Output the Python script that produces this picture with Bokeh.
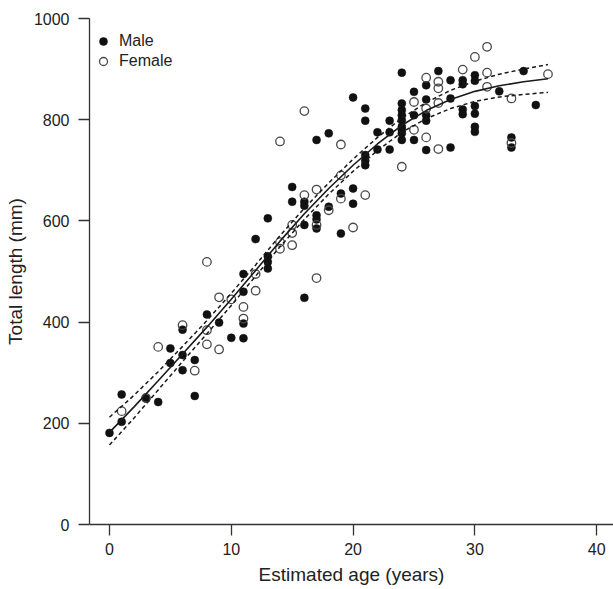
from bokeh.plotting import figure
from bokeh.models import Range1d, FixedTicker, Legend, LegendItem, ColumnDataSource
from bokeh.embed import file_html
from bokeh.resources import INLINE

# ---- data ----
male_age = [0, 1, 1, 3, 4, 5, 5, 6, 6, 6, 7, 7, 8, 9, 10,
            11, 11, 11, 11, 12, 13, 13, 13, 13, 15, 15,
            16, 16, 16, 16, 17, 17, 17, 17, 18, 18, 19, 19,
            20, 20, 20, 21, 21, 21, 21, 21, 22, 22, 23, 23, 23,
            24, 24, 24, 24, 24, 24, 24, 24, 24,
            25, 25, 25, 26, 26, 26, 26, 26, 27, 28, 28, 28,
            29, 29, 29, 29, 30, 30, 30, 30, 30, 30, 32, 33, 33, 34, 35]
male_len = [181, 257, 203, 249, 242, 348, 319, 335, 305, 385, 325, 254, 415, 399, 369,
            495, 460, 397, 368, 564, 605, 530, 519, 506, 667, 638,
            638, 630, 592, 448, 760, 611, 603, 585, 773, 628, 654, 575,
            844, 664, 634, 822, 798, 730, 719, 710, 775, 741, 798, 775, 741,
            893, 832, 819, 809, 799, 786, 780, 773, 760,
            855, 809, 760, 868, 840, 809, 798, 740, 896, 878, 842, 745,
            878, 870, 820, 811, 888, 877, 827, 812, 786, 776, 856, 765, 745, 896, 829]

female_age = [1, 3, 4, 6, 7, 8, 8, 8, 9, 9, 10, 11, 11, 12, 12,
              14, 14, 14, 15, 15, 15, 16, 16, 17, 17, 17, 18,
              19, 19, 19, 20, 21, 24, 25, 25, 26, 26, 26,
              27, 27, 27, 27, 29, 30, 31, 31, 31, 33, 33, 36]
female_len = [224, 250, 351, 394, 304, 519, 384, 356, 449, 346, 445, 430, 407, 495, 462,
              757, 558, 545, 592, 576, 552, 817, 651, 662, 592, 487, 621,
              751, 690, 644, 587, 651, 707, 835, 780, 883, 822, 765,
              875, 862, 833, 742, 899, 924, 944, 893, 865, 842, 754, 890]

curve_age = [0, 2, 4, 6, 8, 10, 12, 14, 16, 18, 20, 22, 24, 26, 28, 30, 32, 34, 36]
curve_fit = [182, 232, 284, 337, 390, 445, 502, 560, 614, 664, 710, 752, 789, 818, 840, 856, 867, 875, 881]
curve_upper = [212, 255, 302, 352, 403, 457, 513, 571, 625, 675, 722, 765, 803, 834, 858, 876, 890, 900, 909]
curve_lower = [157, 210, 266, 322, 377, 433, 491, 549, 603, 653, 698, 739, 775, 802, 822, 836, 845, 850, 854]

x_ticks = [0, 10, 20, 30, 40]
y_ticks = [0, 200, 400, 600, 800, 1000]

FONT = "Liberation Sans"
INK = "#222222"

p = figure(width=613, height=589, output_backend="svg", toolbar_location=None,
           x_range=Range1d(-1.64, 41.38), y_range=Range1d(0, 1000),
           min_border_left=89, min_border_right=0, min_border_top=18, min_border_bottom=65)
p.outline_line_color = None
p.xgrid.visible = False
p.ygrid.visible = False
p.background_fill_color = "white"
p.border_fill_color = "white"

for ax in (p.xaxis[0], p.yaxis[0]):
    ax.axis_line_color = "#333333"
    ax.axis_line_width = 1.3
    ax.major_tick_line_color = "#333333"
    ax.major_tick_line_width = 1.3
    ax.major_tick_out = 11
    ax.major_tick_in = 0
    ax.minor_tick_line_color = None
    ax.major_label_text_font = FONT
    ax.major_label_text_font_size = "16px"
    ax.major_label_text_color = INK
    ax.axis_label_text_font = FONT
    ax.axis_label_text_font_size = "19px"
    ax.axis_label_text_font_style = "normal"
    ax.axis_label_text_color = INK

p.xaxis.ticker = FixedTicker(ticks=x_ticks)
p.yaxis.ticker = FixedTicker(ticks=y_ticks)
p.xaxis.axis_label = "Estimated age (years)"
p.yaxis.axis_label = "Total length (mm)"
p.xaxis.major_label_standoff = 7
p.yaxis.major_label_standoff = 9
p.xaxis.axis_label_standoff = 6
p.yaxis.axis_label_standoff = 5

src_m = ColumnDataSource(dict(x=male_age, y=male_len))
src_f = ColumnDataSource(dict(x=female_age, y=female_len))

r_m = p.scatter("x", "y", source=src_m, marker="circle", size=8,
                fill_color="#111111", line_color="#111111", line_width=0.5)
r_f = p.scatter("x", "y", source=src_f, marker="circle", size=8.5,
                fill_alpha=0, line_color="#4a4a4a", line_width=1.3)

p.line(curve_age, curve_fit, line_color="#1a1a1a", line_width=1.6)
p.line(curve_age, curve_upper, line_color="#1a1a1a", line_width=1.5, line_dash="4 3")
p.line(curve_age, curve_lower, line_color="#1a1a1a", line_width=1.5, line_dash="4 3")

legend = Legend(items=[LegendItem(label="Male", renderers=[r_m]),
                       LegendItem(label="Female", renderers=[r_f])],
                location=(0, 449))
legend.glyph_width = 20
legend.glyph_height = 20
legend.label_height = 20
legend.spacing = 0
legend.padding = 4
legend.label_standoff = 6
legend.label_text_font = FONT
legend.label_text_font_size = "16px"
legend.label_text_color = INK
legend.border_line_alpha = 0
legend.background_fill_alpha = 0
p.add_layout(legend)

open("out.html", "w").write(file_html(p, INLINE))
